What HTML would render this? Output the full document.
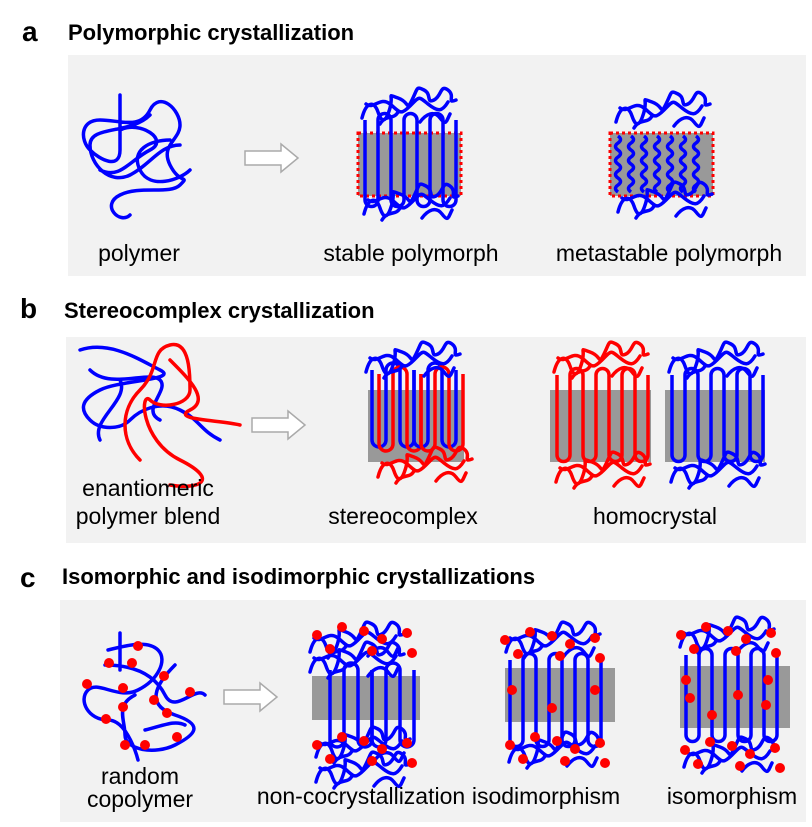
<!DOCTYPE html>
<html><head><meta charset="utf-8"><style>
html,body{margin:0;padding:0;background:#fff;}
svg{display:block;font-family:"Liberation Sans",Arial,sans-serif;}
</style></head><body>
<svg width="812" height="827" viewBox="0 0 812 827" xmlns="http://www.w3.org/2000/svg">
<defs>
<path id="fold8" d="M0,0 V80 a6.5,6.5 0 0 0 13,0 V0 a6.5,6.5 0 0 1 13,0 V80 a6.5,6.5 0 0 0 13,0 V0 a6.5,6.5 0 0 1 13,0 V80 a6.5,6.5 0 0 0 13,0 V0 a6.5,6.5 0 0 1 13,0 V80 a6.5,6.5 0 0 0 13,0 V0" fill="none" stroke-width="3.5"/>
<path id="fold4" d="M0,0 V70 a7,7 0 0 0 14,0 V0 a7,7 0 0 1 14,0 V70 a7,7 0 0 0 14,0 V0" fill="none" stroke-width="3.5"/>
<path id="mess" d="M2,22 c4,-16 12,-18 16,-6 s8,10 12,-4 s-4,-14 8,-10 s8,14 14,2 s4,-14 12,-10 s2,14 10,10 s6,-16 14,-10 s-2,14 8,10 M6,8 c8,6 14,-8 24,0 s10,12 20,2 s8,-10 18,-2 s14,8 20,-2 M20,28 c6,-10 14,-4 18,-12 M60,26 c6,-8 14,-12 20,-4 s6,4 10,-4" fill="none" stroke-width="3.5" stroke-linecap="round"/>
<path id="wave" d="M0,0 q5,3.5 0,7 q-5,3.5 0,7 q5,3.5 0,7 q-5,3.5 0,7 q5,3.5 0,7 q-5,3.5 0,7 q5,3.5 0,7 q-5,3.5 0,7" fill="none" stroke-width="3.5"/>
<g id="dots8" fill="#f00"><circle cx="5" cy="10" r="5"/><circle cx="30" cy="2" r="5"/><circle cx="52" cy="6" r="5"/><circle cx="70" cy="14" r="5"/><circle cx="95" cy="8" r="5"/><circle cx="18" cy="24" r="5"/><circle cx="60" cy="26" r="5"/><circle cx="100" cy="28" r="5"/></g>
<g id="arrow"><path d="M0,-7 H36 V-14 L53,0 L36,14 V7 H0 Z" fill="#fff" stroke="#aaa" stroke-width="1.5"/></g>
</defs>

<rect x="68" y="55" width="738" height="221" fill="#f2f2f2"/>
<rect x="66" y="337" width="740" height="206" fill="#f2f2f2"/>
<rect x="60" y="600" width="746" height="222" fill="#f2f2f2"/>

<text x="22" y="41" font-size="28" font-weight="bold">a</text>
<text x="68" y="40" font-size="22" font-weight="bold">Polymorphic crystallization</text>
<text x="20" y="318" font-size="28" font-weight="bold">b</text>
<text x="64" y="318" font-size="22" font-weight="bold">Stereocomplex crystallization</text>
<text x="20" y="587" font-size="28" font-weight="bold">c</text>
<text x="62" y="584" font-size="22" font-weight="bold">Isomorphic and isodimorphic crystallizations</text>

<!-- panel a -->
<path d="M120,95 V150 c0,20 -20,10 -30,0 s-10,-30 10,-30 s40,10 50,-10 s30,0 30,15 s-20,20 -10,40 s20,10 10,20 s-40,0 -60,10 s0,30 10,20 M150,115 c-20,20 -60,10 -60,30 s20,40 40,30 s30,-30 50,-30 M170,140 c-20,0 -40,10 -30,30 s40,10 50,0 M100,170 c20,10 30,-10 50,-20 s-10,-30 -30,-20" fill="none" stroke="#00f" stroke-width="3.5" stroke-linecap="round"/>
<use href="#arrow" x="245" y="158"/>

<rect x="358" y="133" width="103" height="63" fill="#999" stroke="#f00" stroke-width="3" stroke-dasharray="3,3"/>
<use href="#fold8" x="365" y="120" stroke="#00f"/>
<use href="#mess" x="360" y="96" stroke="#00f"/>
<use href="#mess" x="362" y="192" stroke="#00f"/>

<rect x="610" y="133" width="103" height="63" fill="#999" stroke="#f00" stroke-width="3" stroke-dasharray="3,3"/>
<g stroke="#00f">
<use href="#wave" x="618" y="136"/><use href="#wave" x="631" y="136"/><use href="#wave" x="644" y="136"/><use href="#wave" x="657" y="136"/><use href="#wave" x="670" y="136"/><use href="#wave" x="683" y="136"/><use href="#wave" x="696" y="136"/>
</g>
<use href="#mess" x="614" y="100" stroke="#00f"/>
<use href="#mess" x="616" y="190" stroke="#00f"/>

<text x="139" y="261" font-size="23" text-anchor="middle">polymer</text>
<text x="411" y="261" font-size="23" text-anchor="middle">stable polymorph</text>
<text x="669" y="261" font-size="23" text-anchor="middle">metastable polymorph</text>

<!-- panel b -->
<path d="M80,350 c30,-10 60,10 80,20 s-40,10 -60,20 s-20,20 -10,30 s30,10 40,0 s30,-20 50,-10 s20,20 40,30 M90,370 c20,20 60,0 70,10 s-20,30 0,40 M120,380 c10,20 -30,40 -20,60" fill="none" stroke="#00f" stroke-width="3.5" stroke-linecap="round"/>
<path d="M140,460 c-20,-20 -20,-50 0,-70 s10,-40 30,-45 s20,30 20,45 s-30,20 -40,10 s-10,40 30,60 s20,30 -10,25 M170,360 c20,20 40,40 20,50 s30,10 50,15" fill="none" stroke="#f00" stroke-width="3.5" stroke-linecap="round"/>
<use href="#arrow" x="252" y="425"/>

<rect x="368" y="390" width="96" height="72" fill="#999"/>
<use href="#fold4" x="372" y="370" stroke="#00f"/>
<use href="#fold4" x="379" y="374" stroke="#f00"/>
<use href="#fold4" x="414" y="370" stroke="#00f"/>
<use href="#fold4" x="421" y="374" stroke="#f00"/>
<use href="#mess" x="364" y="350" stroke="#00f"/>
<use href="#mess" x="376" y="455" stroke="#f00"/>

<rect x="550" y="390" width="101" height="72" fill="#999"/>
<use href="#fold8" x="557" y="375" stroke="#f00"/>
<use href="#mess" x="552" y="350" stroke="#f00"/>
<use href="#mess" x="554" y="460" stroke="#f00"/>
<rect x="665" y="390" width="100" height="72" fill="#999"/>
<use href="#fold8" x="672" y="375" stroke="#00f"/>
<use href="#mess" x="667" y="350" stroke="#00f"/>
<use href="#mess" x="669" y="460" stroke="#00f"/>

<text x="148" y="496" font-size="23" text-anchor="middle">enantiomeric</text>
<text x="148" y="524" font-size="23" text-anchor="middle">polymer blend</text>
<text x="403" y="524" font-size="23" text-anchor="middle">stereocomplex</text>
<text x="655" y="524" font-size="23" text-anchor="middle">homocrystal</text>

<!-- panel c -->
<path d="M120,633 V670 M108,650 c20,-5 40,-10 50,0 s0,30 -20,40 s-40,-10 -50,0 s0,30 20,30 s30,40 30,40 M105,665 c30,0 50,10 60,30 s30,-10 40,0 M175,665 c-20,20 -30,40 0,50 s20,20 0,30 s-50,5 -50,-10 s-10,-30 10,-40 M145,730 c20,-5 30,-10 40,-5" fill="none" stroke="#00f" stroke-width="3.5" stroke-linecap="round"/>
<g fill="#f00"><circle cx="138" cy="646" r="5"/><circle cx="109" cy="663" r="5"/><circle cx="132" cy="663" r="5"/><circle cx="164" cy="676" r="5"/><circle cx="87" cy="684" r="5"/><circle cx="123" cy="688" r="5"/><circle cx="190" cy="692" r="5"/><circle cx="154" cy="700" r="5"/><circle cx="123" cy="707" r="5"/><circle cx="167" cy="713" r="5"/><circle cx="106" cy="719" r="5"/><circle cx="177" cy="737" r="5"/><circle cx="145" cy="745" r="5"/><circle cx="125" cy="745" r="5"/></g>
<use href="#arrow" x="224" y="697"/>

<rect x="312" y="676" width="108" height="44" fill="#999"/>
<use href="#fold4" x="330" y="670" stroke="#00f"/>
<use href="#fold4" x="372" y="670" stroke="#00f"/>
<use href="#mess" x="308" y="630" stroke="#00f"/>
<use href="#mess" x="308" y="650" stroke="#00f"/>
<use href="#mess" x="314" y="735" stroke="#00f"/>
<use href="#mess" x="314" y="760" stroke="#00f"/>
<use href="#dots8" x="312" y="625"/>
<use href="#dots8" x="312" y="735"/>

<rect x="505" y="668" width="110" height="54" fill="#999"/>
<use href="#fold8" x="510" y="660" stroke="#00f"/>
<use href="#mess" x="504" y="630" stroke="#00f"/>
<use href="#mess" x="507" y="740" stroke="#00f"/>
<use href="#dots8" x="500" y="630"/>
<use href="#dots8" x="505" y="735"/>
<g fill="#f00"><circle cx="512" cy="690" r="5"/><circle cx="552" cy="708" r="5"/><circle cx="595" cy="690" r="5"/></g>

<rect x="680" y="666" width="110" height="62" fill="#999"/>
<use href="#fold8" x="686" y="655" stroke="#00f"/>
<use href="#mess" x="678" y="625" stroke="#00f"/>
<use href="#mess" x="682" y="745" stroke="#00f"/>
<use href="#dots8" x="676" y="625"/>
<use href="#dots8" x="680" y="740"/>
<g fill="#f00"><circle cx="686" cy="680" r="5"/><circle cx="690" cy="698" r="5"/><circle cx="712" cy="715" r="5"/><circle cx="738" cy="695" r="5"/><circle cx="768" cy="680" r="5"/><circle cx="766" cy="705" r="5"/></g>

<text x="140" y="784" font-size="23" text-anchor="middle">random</text>
<text x="140" y="807" font-size="23" text-anchor="middle">copolymer</text>
<text x="361" y="804" font-size="23" text-anchor="middle">non-cocrystallization</text>
<text x="546" y="804" font-size="23" text-anchor="middle">isodimorphism</text>
<text x="732" y="804" font-size="23" text-anchor="middle">isomorphism</text>
</svg>
</body></html>
